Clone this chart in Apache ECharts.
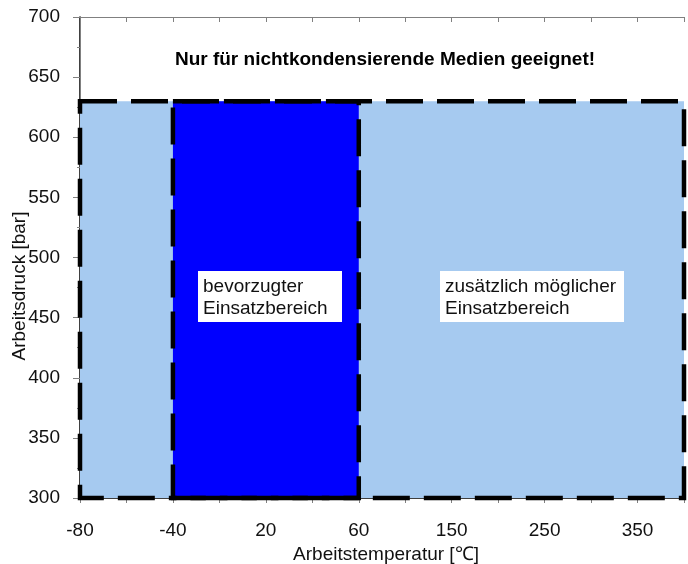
<!DOCTYPE html>
<html>
<head>
<meta charset="utf-8">
<script src="https://cdn.jsdelivr.net/npm/echarts@6/dist/echarts.min.js"></script>
<style>html,body{margin:0;padding:0;background:#fff}#c{width:688px;height:564px}</style>
</head>
<body>
<div id="c"></div>
<script>
// ---- data ----
const tempTicks = [-80, -40, 20, 60, 150, 250, 350];   // x tick labels (non-linear axis)
const tempEdge = 400;                                    // right edge of plot (half step beyond 350)
const pressureTicks = [300, 350, 400, 450, 500, 550, 600, 650, 700];
const regionNames = ['zusätzlich möglicher Einsatzbereich', 'bevorzugter Einsatzbereich'];
const regionTempFrom = [-80, -40];
const regionTempTo = [400, 60];
const regionPressFrom = [300, 300];
const regionPressTo = [630, 630];
const regionColors = ['#A6CAF0', '#0000FF'];
const titleText = 'Nur für nichtkondensierende Medien geeignet!';
const xName = 'Arbeitstemperatur [℃]';
const yName = 'Arbeitsdruck [bar]';

// map temperature onto the (equal-spaced) tick positions of the axis
const tickPos = tempTicks.concat([tempEdge]);
function tempToAxis(t) {
  const idx = tempTicks.map((_, i) => i).concat([tempTicks.length - 0.5]);
  for (let i = 0; i < tickPos.length - 1; i++) {
    if (t <= tickPos[i + 1]) {
      return idx[i] + (t - tickPos[i]) / (tickPos[i + 1] - tickPos[i]) * (idx[i + 1] - idx[i]);
    }
  }
  return idx[idx.length - 1];
}

const regionData = regionNames.map((n, i) => ({
  name: n,
  value: [tempToAxis(regionTempFrom[i]), tempToAxis(regionTempTo[i]), regionPressFrom[i], regionPressTo[i]],
  color: regionColors[i]
}));

const FONT = '"Liberation Sans", Arial, Helvetica, sans-serif';
const chart = echarts.init(document.getElementById('c'), null, {renderer: 'canvas'});

function rectRender(fill) {
  return function (params, api) {
    const p0 = api.coord([api.value(0), api.value(3)]);
    const p1 = api.coord([api.value(1), api.value(2)]);
    const shape = {x: p0[0], y: p0[1], width: p1[0] - p0[0], height: p1[1] - p0[1]};
    if (fill) {
      return {type: 'rect', shape: shape, style: {fill: regionData[params.dataIndex].color}};
    }
    return {type: 'rect', shape: shape,
      style: {fill: null, stroke: '#000', lineWidth: 4.5, lineDash: [37, 14]}};
  };
}

const xMax = tempTicks.length - 0.5;
chart.setOption({
  animation: false,
  textStyle: {fontFamily: FONT},
  grid: {left: 80, right: 4, top: 17, bottom: 66, show: false},
  xAxis: [{
    type: 'value', min: 0, max: xMax, interval: 0.5, position: 'bottom',
    axisLine: {show: true, lineStyle: {color: '#000', width: 1.5}},
    axisTick: {show: true, length: 5, lineStyle: {color: '#808080'}},
    axisLabel: {
      margin: 23, fontSize: 19, color: '#111', fontFamily: FONT,
      formatter: v => (Number.isInteger(v) && v < tempTicks.length) ? String(tempTicks[v]) : ''
    },
    splitLine: {show: false}
  }, {
    type: 'value', min: 0, max: xMax, interval: 0.5, position: 'top',
    axisLine: {show: true, lineStyle: {color: '#808080', width: 1}},
    axisTick: {show: true, inside: true, length: 5, lineStyle: {color: '#808080'}},
    axisLabel: {show: false}, splitLine: {show: false}
  }],
  yAxis: [{
    type: 'value', min: pressureTicks[0], max: pressureTicks[pressureTicks.length - 1], interval: 50,
    position: 'left',
    axisLine: {show: true, lineStyle: {color: '#000', width: 1.5}},
    axisTick: {show: true, length: 7, lineStyle: {color: '#808080'}},
    minorTick: {show: true, splitNumber: 2, length: 3, lineStyle: {color: '#808080'}},
    axisLabel: {margin: 20, fontSize: 19, color: '#111', fontFamily: FONT},
    splitLine: {show: false}
  }, {
    type: 'value', min: pressureTicks[0], max: pressureTicks[pressureTicks.length - 1], interval: 50,
    position: 'right',
    axisLine: {show: true, lineStyle: {color: '#808080', width: 1}},
    axisTick: {show: false}, axisLabel: {show: false}, splitLine: {show: false}
  }],
  series: [{
    type: 'custom', name: 'fill', xAxisIndex: 0, yAxisIndex: 0, z: 1,
    renderItem: rectRender(true), data: regionData, clip: false, silent: true
  }, {
    type: 'custom', name: 'outline', xAxisIndex: 0, yAxisIndex: 0, z: 5,
    renderItem: rectRender(false), data: regionData, clip: false, silent: true
  }],
  graphic: [
    {type: 'text', x: 385, y: 50, z: 10,
      style: {text: titleText, font: 'bold 19px ' + FONT, fill: '#000', textAlign: 'center'}},
    {type: 'rect', z: 20, shape: {x: 198, y: 271, width: 144, height: 51}, style: {fill: '#fff'}},
    {type: 'text', z: 21, x: 203, y: 276,
      style: {text: 'bevorzugter\nEinsatzbereich', font: '19px ' + FONT, lineHeight: 22, fill: '#111'}},
    {type: 'rect', z: 20, shape: {x: 440, y: 271, width: 184, height: 51}, style: {fill: '#fff'}},
    {type: 'text', z: 21, x: 445, y: 276,
      style: {text: 'zusätzlich möglicher\nEinsatzbereich', font: '19px ' + FONT, lineHeight: 22, fill: '#111'}},
    {type: 'text', x: 386, y: 545, z: 10,
      style: {text: xName, font: '19px ' + FONT, fill: '#111', textAlign: 'center'}},
    {type: 'text', x: 10, y: 286, rotation: Math.PI / 2, z: 10,
      style: {text: yName, font: '19px ' + FONT, fill: '#111', textAlign: 'center'}}
  ]
});
</script>
</body>
</html>
